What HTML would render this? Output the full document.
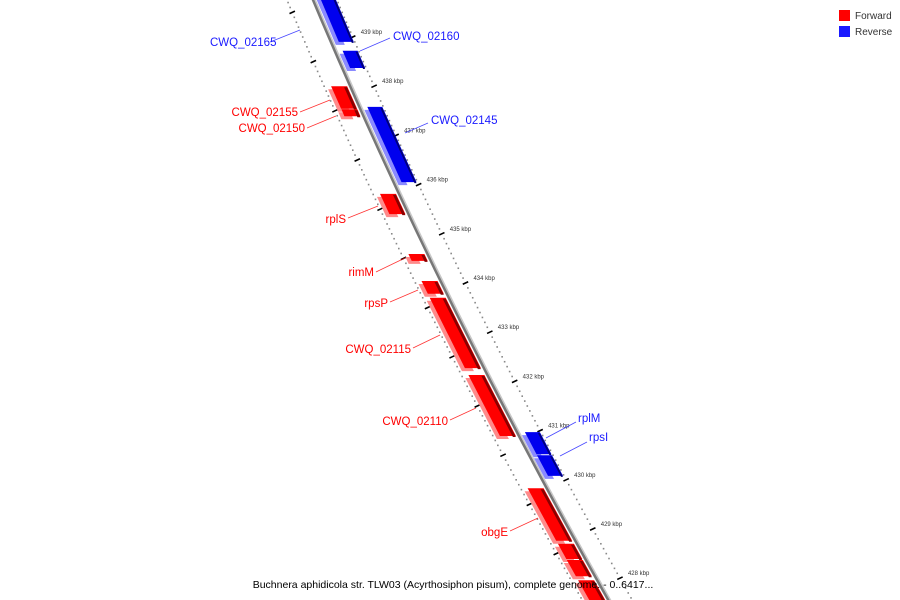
<!DOCTYPE html>
<html><head><meta charset="utf-8"><style>
html,body{margin:0;padding:0;background:#fff;}
svg{display:block;font-family:"Liberation Sans","DejaVu Sans",sans-serif;}
</style></head><body>
<svg id="map" width="900" height="600" viewBox="0 0 900 600" xmlns="http://www.w3.org/2000/svg">
<g id="ticks"></g>
<g id="backbone"></g>
<g id="features"></g>
<g id="labels"></g>
<g>
  <rect x="839" y="10" width="11" height="11" fill="#ff0000"/>
  <text x="855" y="19" font-size="10" fill="#333">Forward</text>
  <rect x="839" y="26" width="11" height="11" fill="#1a1aff"/>
  <text x="855" y="35" font-size="10" fill="#333">Reverse</text>
</g>
<text x="453" y="588" text-anchor="middle" font-size="10.5" fill="#000">Buchnera aphidicola str. TLW03 (Acyrthosiphon pisum), complete genome. - 0..6417...</text>
</svg>
<script>
// data
const featureNames = ["top-reverse","CWQ_02160","CWQ_02145","rplM","rpsI","CWQ_02155","CWQ_02150","rplS","rimM","rpsP","CWQ_02115","CWQ_02110","obgE","fwd-a","fwd-b","fwd-c"];
const featureStarts = [439.95,438.72,437.58,430.97,430.50,438.00,437.53,435.81,434.59,434.04,433.70,432.13,429.83,428.70,428.37,427.96];
const featureEnds   = [438.90,438.37,436.05,430.52,430.08,437.54,437.39,435.40,434.45,433.78,432.27,430.89,428.76,428.39,428.04,427.00];
const featureStrands = ["-","-","-","-","-","+","+","+","+","+","+","+","+","+","+","+"];
const tickLabels = [439,438,437,436,435,434,433,432,431,430,429,428];

const NS="http://www.w3.org/2000/svg";
function X(y){return 313+0.42*y+0.00012*y*y;}
function Y(k){return 37+(439-k)*49.2;}
function mk(tag,attrs,parent){const e=document.createElementNS(NS,tag);for(const a in attrs)e.setAttribute(a,attrs[a]);parent.appendChild(e);return e;}

// backbone
const bb=document.getElementById('backbone');
let pts=[],pts2=[];
for(let y=-10;y<=610;y+=10){pts.push(X(y).toFixed(1)+","+y);pts2.push((X(y)+2).toFixed(1)+","+y);}
const bs=mk('polyline',{points:pts2.join(' '),fill:'none',stroke:'#c8c8c8','stroke-width':2},bb);


const bl=mk('polyline',{points:pts.join(' '),fill:'none',stroke:'#777','stroke-width':2.5},bb);



// ticks
const tg=document.getElementById('ticks');
function dash(x,y,len,parent){const dx=0.9,dy=-0.42;return mk('line',{x1:x-dx*len/2,y1:y-dy*len/2,x2:x+dx*len/2,y2:y+dy*len/2,stroke:'#000','stroke-width':1.6},parent);}
for(let i=0;i<=140;i++){
  const k=440.2-i*0.1;const y=Y(k);if(y<-5||y>605)continue;
  const frac=Math.round((k*10))%10;
  [24,-26].forEach(off=>{
    const x=X(y)+off;
    const major = off>0 ? frac===0 : frac===5;
    if(major){const d=dash(x,y,6,tg);}
    else{const c=mk('rect',{x:x-0.8,y:y-0.8,width:1.6,height:1.6,fill:'#888'},tg);}
  });
}
tickLabels.forEach(k=>{
  const y=Y(k);
  const t=mk('text',{x:X(y)+32,y:y-3,'font-size':6,fill:'#333'},tg);
  t.textContent=k+" kbp";
  
  
});

// features
const fg=document.getElementById('features');
function band(y1,y2,o1,o2,sh,fill,parent){
  const p=[[X(y1)+o1,y1+sh],[X(y1)+o2,y1+sh],[X(y2)+o2,y2+sh],[X(y2)+o1,y2+sh]];
  return mk('polygon',{points:p.map(q=>q[0].toFixed(1)+","+q[1].toFixed(1)).join(' '),fill:fill},parent);
}
featureNames.forEach((n,i)=>{
  const y1=Y(featureStarts[i]),y2=Y(featureEnds[i]);
  const g=mk('g',{},fg);
  
  
  if(featureStrands[i]==='+'){
    band(y1,y2,-22,-10,3,'#ff8a8a',g);
    band(y1,y2,-19,-3,0,'#ff0000',g);
    band(y1,y2,-6,-3,1,'#8a0000',g);
  } else {
    band(y1,y2,5,14,3,'#8a8aff',g);
    band(y1,y2,8,23,0,'#0000ee',g);
    band(y1,y2,21,23,1,'#00007a',g);
  }
});

// labels
const lg=document.getElementById('labels');
const labelDefs=[
 ["CWQ_02165","#1a1aff",210,46,"start",270,42,300,30],
 ["CWQ_02160","#1a1aff",393,40,"start",360,51,390,38],
 ["CWQ_02145","#1a1aff",431,124,"start",405,133,428,123],
 ["rplM","#1a1aff",578,422,"start",546,438,576,422],
 ["rpsI","#1a1aff",589,441,"start",560,456,587,442],
 ["CWQ_02155","#ff0000",298,116,"end",300,112,330,100],
 ["CWQ_02150","#ff0000",305,132,"end",307,128,336,116],
 ["rplS","#ff0000",346,223,"end",348,218,378,206],
 ["rimM","#ff0000",374,276,"end",376,272,405,258],
 ["rpsP","#ff0000",388,307,"end",390,302,418,290],
 ["CWQ_02115","#ff0000",411,353,"end",413,348,440,335],
 ["CWQ_02110","#ff0000",448,425,"end",450,420,476,408],
 ["obgE","#ff0000",508,536,"end",510,531,538,518]
];
labelDefs.forEach(d=>{
  const ln=mk('line',{x1:d[5],y1:d[6],x2:d[7],y2:d[8],stroke:d[1],'stroke-width':0.8,opacity:0.8},lg);
  
  
  const t=mk('text',{x:d[2],y:d[3],'text-anchor':d[4],'font-size':11.5,fill:d[1]},lg);
  t.textContent=d[0];
  
  
});
</script>
</body></html>
